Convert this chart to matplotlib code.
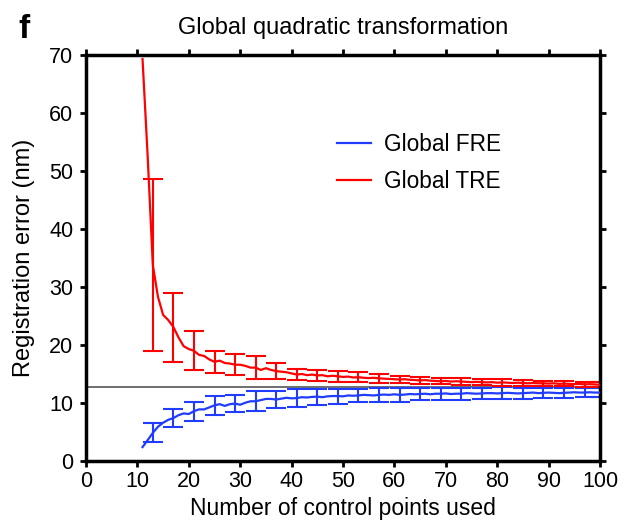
import numpy as np
import matplotlib
matplotlib.use("Agg")
import matplotlib.pyplot as plt

plt.rcParams['font.family'] = ['Liberation Sans', 'DejaVu Sans']

# Number of control points used
n_points = list(range(11, 101))

# Mean global fiducial registration error (nm)
fre_mean = [
    2.4, 3.6, 4.85, 5.9, 6.6, 7.1, 7.4, 7.9, 8.2, 8.1,
    8.6, 8.9, 8.9, 9.25, 9.6, 9.8, 9.5, 9.8, 9.9, 9.7,
    10.05, 10.3, 10.3, 10.5, 10.7, 10.7, 10.6, 10.75, 10.9, 10.8,
    10.85, 11.0, 10.95, 11.05, 11.1, 11.0, 11.15, 11.2, 11.2, 11.15,
    11.3, 11.25, 11.3, 11.4, 11.35, 11.3, 11.4, 11.45, 11.4, 11.5,
    11.4, 11.45, 11.55, 11.5, 11.55, 11.6, 11.5, 11.6, 11.6, 11.65,
    11.55, 11.6, 11.6, 11.7, 11.65, 11.6, 11.65, 11.7, 11.7, 11.65,
    11.7, 11.75, 11.7, 11.65, 11.7, 11.75, 11.8, 11.7, 11.75, 11.8,
    11.75, 11.7, 11.75, 11.8, 11.85, 11.8, 11.8, 11.85, 11.8, 11.8,
]

# Mean global target registration error (nm)
tre_mean = [
    69.3, 52.5, 33.8, 28.3, 25.2, 24.3, 23.1, 21.3, 19.8, 19.3,
    19.0, 18.3, 18.1, 17.5, 17.1, 17.3, 16.9, 16.8, 16.6, 16.6,
    16.4, 16.1, 16.1, 15.7, 16.0, 15.7, 15.5, 15.4, 15.3, 15.1,
    14.9, 15.0, 14.8, 14.9, 14.75, 14.8, 14.6, 14.7, 14.6, 14.5,
    14.55, 14.4, 14.45, 14.35, 14.3, 14.35, 14.25, 14.2, 14.15, 14.1,
    14.05, 14.1, 14.0, 13.95, 13.9, 13.95, 13.85, 13.8, 13.75, 13.8,
    13.7, 13.75, 13.7, 13.65, 13.6, 13.65, 13.6, 13.55, 13.6, 13.5,
    13.55, 13.5, 13.45, 13.5, 13.45, 13.4, 13.45, 13.4, 13.4, 13.35,
    13.4, 13.3, 13.35, 13.3, 13.25, 13.3, 13.2, 13.25, 13.2, 13.15,
]

# Positions where standard deviations are shown
err_points = [13, 17, 21, 25, 29, 33, 37, 41, 45, 49, 53, 57,
              61, 65, 69, 73, 77, 81, 85, 89, 93, 97, 100]
fre_sd = [1.65, 1.6, 1.65, 1.6, 1.5, 1.7, 1.4, 1.5, 1.4, 1.3, 1.2, 1.2,
          1.2, 1.05, 1.0, 1.05, 1.0, 1.0, 0.95, 0.9, 0.9, 0.85, 0.85]
tre_sd = [14.85, 5.95, 3.35, 1.9, 1.8, 2.0, 1.4, 1.0, 0.95, 0.95, 0.9, 0.8,
          0.65, 0.6, 0.55, 0.6, 0.58, 0.58, 0.52, 0.45, 0.45, 0.43, 0.4]

# Reference level (nm)
ref_level = 12.8

x_ticks = list(range(0, 101, 10))
y_ticks = list(range(0, 71, 10))

blue = '#1f3cff'
red = '#ff0000'

fig = plt.figure(figsize=(6.26, 5.23), dpi=100)
ax = fig.add_axes([86 / 626, 62 / 523, 514 / 626, 406 / 523])

ax.axhline(ref_level, color='#555555', lw=1.2, zorder=1)

fre_line, = ax.plot(n_points, fre_mean, color=blue, lw=1.6, label='Global FRE', zorder=3)
tre_line, = ax.plot(n_points, tre_mean, color=red, lw=1.6, label='Global TRE', zorder=3)

idx = [n_points.index(p) for p in err_points]
ax.errorbar(err_points, [fre_mean[i] for i in idx], yerr=fre_sd, fmt='none',
            ecolor=blue, elinewidth=1.5, capsize=7, capthick=1.5, zorder=2)
ax.errorbar(err_points, [tre_mean[i] for i in idx], yerr=tre_sd, fmt='none',
            ecolor=red, elinewidth=1.5, capsize=7, capthick=1.5, zorder=2)

ax.set_xlim(0, 100)
ax.set_ylim(0, 70)
ax.set_xticks(x_ticks)
ax.set_yticks(y_ticks)
ax.tick_params(direction='out', length=4, width=2, labelsize=15.5,
               top=True, right=True)
ax.tick_params(axis='x', pad=3)
ax.tick_params(axis='y', pad=5)
for s in ax.spines.values():
    s.set_linewidth(2.5)

ax.set_xlabel('Number of control points used', fontsize=16.5, labelpad=4)
ax.set_ylabel('Registration error (nm)', fontsize=17, labelpad=10)
ax.set_title('Global quadratic transformation', fontsize=17, pad=15)

ax.legend(handles=[fre_line, tre_line], loc='upper left',
          bbox_to_anchor=(0.488, 0.808), borderpad=0, borderaxespad=0,
          frameon=False, fontsize=16.3,
          handlelength=1.53, handletextpad=0.57, labelspacing=0.6)

fig.text(18 / 626, 1 - 38 / 523, 'f', fontsize=24, fontweight='bold')

fig.savefig('out.png', dpi=100)
